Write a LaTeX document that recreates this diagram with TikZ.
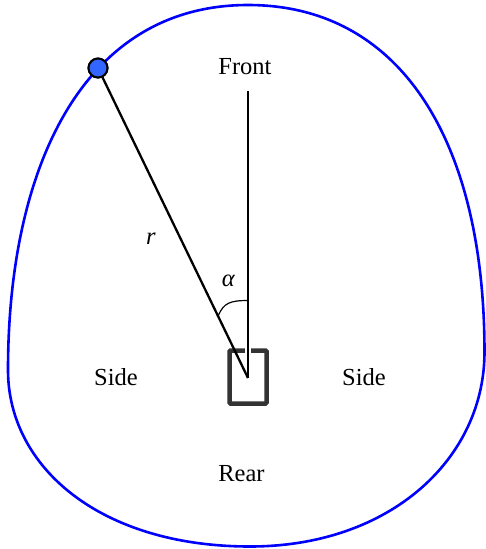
\documentclass[tikz,border=0pt]{standalone}
\usepackage{fontspec}
\setmainfont{Liberation Serif}
\definecolor{dotblue}{RGB}{51,102,255}
\definecolor{boxgray}{RGB}{51,51,51}
\begin{document}
\begin{tikzpicture}[x=1pt,y=-1pt,
  lbl/.style={font=\fontsize{24.5}{28}\selectfont, inner sep=0pt},
  rayline/.style={draw=black, line width=2.3pt},
  boundary/.style={draw=blue, line width=2.6pt},
  sensorbox/.style={draw=boxgray, line width=4.5pt, rounded corners=1pt, minimum width=37pt, minimum height=53pt, inner sep=0pt},
  target/.style={circle, draw=black, line width=2pt, fill=dotblue, minimum size=19pt, inner sep=0pt}]
\useasboundingbox (0,0) rectangle (486,549);
% boundary curve
\coordinate (T) at (248,5);
\coordinate (R) at (484.5,352);
\coordinate (B) at (250,546.5);
\coordinate (L) at (8,370);
\draw[boundary] (T) .. controls (402,5) and (484.5,143) .. (R)
  .. controls (484.5,458) and (391,546.5) .. (B)
  .. controls (100,546.5) and (8,467) .. (L)
  .. controls (8,169) and (82,5) .. (T) -- cycle;
% sensor
\node[sensorbox] (sensor) at (248,377) {};
\coordinate (c) at (248,378);
\coordinate (f) at (248,91);
\draw[white, line width=6.5pt] (248,347) -- (248,354);
% target
\node[target] (t) at (98,68) {};
\draw[rayline] (f) -- (c);
\draw[rayline] (t) -- (c);
\node[target] at (t) {};
% angle arc
\coordinate (a1) at (218.5,315);
\coordinate (a2) at (248,300.5);
\draw[black, line width=1.2pt] (a1) .. controls (224,303) and (230,300.5) .. (a2);
% labels
\node[lbl, anchor=base] (front) at (245,74) {Front};
\node[lbl, anchor=base] (sideL) at (116,385) {Side};
\node[lbl, anchor=base] (sideR) at (364,385) {Side};
\node[lbl, anchor=base] (rear) at (241.5,481) {Rear};
\node[lbl] (rlab) at (151,239) {\textit{r}};
\node[lbl] (alab) at (228.5,281) {\textit{α}};
\end{tikzpicture}
\end{document}
